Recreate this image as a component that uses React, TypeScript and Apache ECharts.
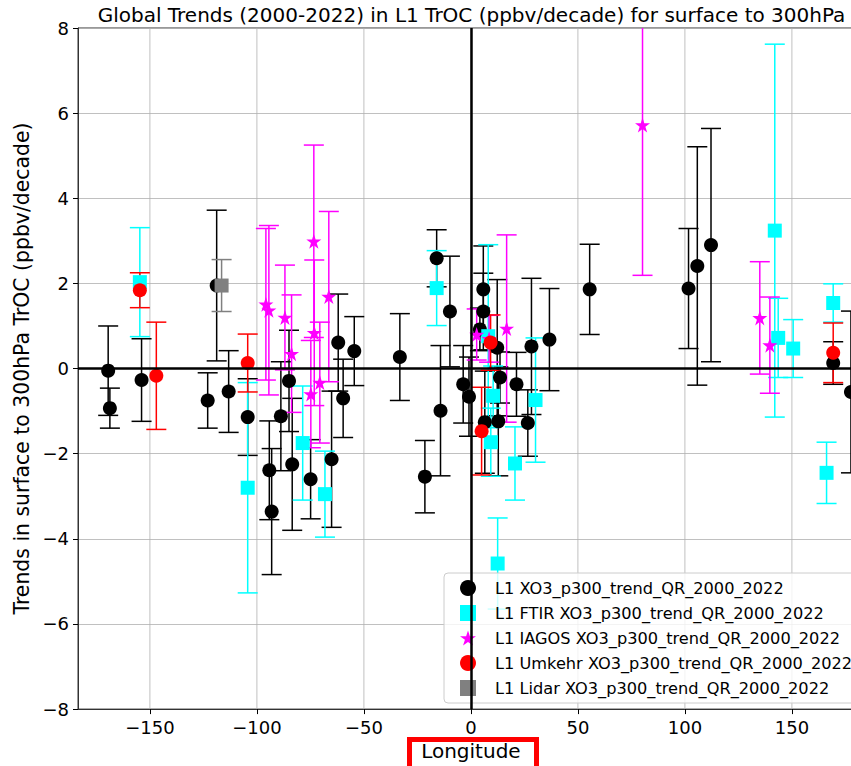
import React, { useEffect, useRef } from "react";
import * as echarts from "echarts";

// ---- data ----
const xo3Lon = [-169.5, -168.7, -153.9, -123.0, -118.8, -113.2, -104.3, -94.2, -93.1, -88.8, -85.0, -83.5, -74.9, -65.1, -62.0, -59.7, -54.5, -33.2, -21.5, -16.0, -14.2, -9.8, -3.6, -0.9, 4.2, 5.8, 5.8, 6.5, 12.3, 12.8, 13.6, 21.3, 26.6, 28.3, 36.7, 55.5, 101.7, 105.8, 112.2, 169.3, 177.6];
const xo3Trend = [-0.05, -0.93, -0.27, -0.75, 1.95, -0.54, -1.14, -2.39, -3.36, -1.12, -0.29, -2.25, -2.60, -2.13, 0.61, -0.70, 0.41, 0.27, -2.54, 2.59, -0.99, 1.34, -0.37, -0.66, 0.92, 1.34, 1.86, -1.26, 0.49, -1.24, -0.21, -0.37, -1.28, 0.52, 0.68, 1.86, 1.88, 2.41, 2.90, 0.13, -0.55];
const xo3Err = [1.05, 0.47, 0.97, 0.65, 1.77, 0.96, 0.90, 1.16, 1.48, 1.28, 1.19, 1.55, 0.93, 1.60, 1.14, 0.92, 0.81, 1.02, 0.85, 0.67, 1.53, 1.30, 0.91, 0.93, 0.50, 0.90, 1.02, 1.20, 1.60, 1.28, 0.60, 0.75, 0.78, 1.60, 1.20, 1.06, 1.41, 2.80, 2.74, 0.50, 1.90];

const ftirLon = [-154.7, -104.3, -78.6, -68.2, -16.0, 8.1, 9.3, 10.4, 12.5, 20.6, 30.2, 142.0, 143.6, 150.6, 166.2, 169.3];
const ftirTrend = [2.03, -2.80, -1.75, -2.95, 1.89, 0.76, -1.73, -0.64, -4.58, -2.23, -0.74, 3.24, 0.72, 0.47, -2.45, 1.54];
const ftirErr = [1.28, 2.47, 1.34, 1.01, 0.88, 2.15, 0.80, 0.70, 1.07, 0.86, 1.46, 4.38, 0.93, 0.68, 0.72, 0.45];

const iagosLon = [-95.8, -94.4, -86.9, -83.8, -74.8, -73.4, -73.2, -70.6, -66.4, 2.7, 8.5, 16.7, 80.2, 135.0, 139.7];
const iagosTrend = [1.51, 1.37, 1.20, 0.35, -0.60, 2.99, 0.84, -0.33, 1.69, 0.80, 0.70, 0.94, 5.72, 1.19, 0.55];
const iagosErr = [1.78, 1.99, 1.23, 1.38, 1.26, 2.26, 1.71, 1.42, 2.00, 0.60, 0.55, 2.20, 3.53, 1.32, 1.13];

const umkehrLon = [-154.7, -147.0, -104.3, 5.0, 9.2, 169.3];
const umkehrTrend = [1.84, -0.17, 0.13, -1.47, 0.61, 0.37];
const umkehrErr = [0.41, 1.26, 0.68, 1.03, 0.65, 0.70];

const lidarLon = [-116.5];
const lidarTrend = [1.95];
const lidarErr = [0.61];

const xTicks = [-150, -100, -50, 0, 50, 100, 150];
const yTicks = [-8, -6, -4, -2, 0, 2, 4, 6, 8];

const names = [
  "L1 XO3_p300_trend_QR_2000_2022",
  "L1 FTIR XO3_p300_trend_QR_2000_2022",
  "L1 IAGOS XO3_p300_trend_QR_2000_2022",
  "L1 Umkehr XO3_p300_trend_QR_2000_2022",
  "L1 Lidar XO3_p300_trend_QR_2000_2022",
];

const FONT = "DejaVu Sans";
const STAR =
  "path://M0,-10L2.245,-3.09L9.511,-3.09L3.633,1.18L5.878,8.09L0,3.82L-5.878,8.09L-3.633,1.18L-9.511,-3.09L-2.245,-3.09Z";

const fmt = (v: number) => String(v).replace("-", "\u2212");

function errSeries(name: string, lon: number[], val: number[], err: number[], color: string) {
  return {
    type: "custom",
    name: name + " err",
    clip: true,
    silent: true,
    z: 2,
    encode: { x: 0, y: 1 },
    data: lon.map((x, i) => [x, val[i], err[i]]),
    renderItem: (params: any, api: any) => {
      const x = api.value(0);
      const y = api.value(1);
      const e = api.value(2);
      const t = api.coord([x, y + e]);
      const b = api.coord([x, y - e]);
      const cw = 10;
      const st = { stroke: color, lineWidth: 1.5 };
      return {
        type: "group",
        children: [
          { type: "line", shape: { x1: t[0], y1: t[1], x2: b[0], y2: b[1] }, style: st },
          { type: "line", shape: { x1: t[0] - cw, y1: t[1], x2: t[0] + cw, y2: t[1] }, style: st },
          { type: "line", shape: { x1: b[0] - cw, y1: b[1], x2: b[0] + cw, y2: b[1] }, style: st },
        ],
      };
    },
  };
}

function ptSeries(name: string, lon: number[], val: number[], color: string, symbol: string, size: number) {
  return {
    type: "scatter",
    name,
    z: 2,
    symbol,
    symbolSize: size,
    itemStyle: { color, opacity: 1 },
    data: lon.map((x, i) => [x, val[i]]),
    silent: true,
  };
}

export default function App() {
  const ref = useRef<HTMLDivElement>(null);
  useEffect(() => {
    if (!ref.current) return;
    const chart = echarts.init(ref.current, undefined, { renderer: "svg" });
    const xGridSeries = {
      type: "custom",
      name: "xgrid",
      silent: true,
      z: 1,
      encode: { x: 0, y: 1 },
      data: xTicks.map((v) => [v, 0]),
      renderItem: (params: any, api: any) => {
        const v = api.value(0);
        const a = api.coord([v, 8]);
        const b = api.coord([v, -8]);
        return {
          type: "line",
          shape: { x1: a[0], y1: a[1], x2: b[0], y2: b[1] },
          style: { stroke: "#b0b0b0", lineWidth: 0.8 },
        };
      },
    };
    const lidarPts: any = ptSeries(names[4], lidarLon, lidarTrend, "#808080", "rect", 14);
    lidarPts.markLine = {
      silent: true,
      symbol: "none",
      z: 10,
      label: { show: false },
      lineStyle: { color: "#000", width: 2.5, type: "solid" },
      data: [{ xAxis: 0 }, { yAxis: 0 }],
    };
    chart.setOption({
      animation: false,
      grid: {
        left: 78,
        top: 28,
        width: 785.8,
        height: 686,
        show: true,
        borderColor: "#333",
        borderWidth: 1,
        backgroundColor: "transparent",
      },
      xAxis: {
        type: "value",
        min: -183.6,
        max: 183.6,
        axisLine: { show: true, onZero: false, lineStyle: { color: "#333", width: 1 } },
        axisTick: { show: true, inside: false, length: 5, customValues: xTicks, lineStyle: { color: "#000" } },
        axisLabel: { customValues: xTicks, formatter: fmt, fontSize: 18, color: "#000", margin: 9, fontFamily: FONT },
        splitLine: { show: false },
        name: "Longitude",
        nameLocation: "middle",
        nameGap: 26,
        nameTextStyle: { fontSize: 20, color: "#000", fontFamily: FONT },
      },
      yAxis: {
        type: "value",
        min: -8,
        max: 8,
        interval: 2,
        axisLine: { show: true, onZero: false, lineStyle: { color: "#333", width: 1 } },
        axisTick: { show: true, inside: false, length: 5, lineStyle: { color: "#000" } },
        axisLabel: { formatter: fmt, fontSize: 18, color: "#000", margin: 9, fontFamily: FONT },
        splitLine: { show: true, lineStyle: { color: "#b0b0b0", width: 0.8 } },
        name: "Trends in surface to 300hPa TrOC (ppbv/decade)",
        nameLocation: "middle",
        nameGap: 38,
        nameRotate: 90,
        nameTextStyle: { fontSize: 20.4, color: "#000", fontFamily: FONT },
      },
      legend: {
        orient: "vertical",
        left: 444,
        top: 573,
        data: [
          { name: names[0], icon: "circle" },
          { name: names[1], icon: "rect" },
          { name: names[2], icon: STAR },
          { name: names[3], icon: "circle" },
          { name: names[4], icon: "rect" },
        ],
        itemWidth: 16,
        itemHeight: 16,
        itemGap: 9,
        padding: [7, 12, 7, 16],
        backgroundColor: "rgba(255,255,255,0.8)",
        borderColor: "#cccccc",
        borderWidth: 1,
        borderRadius: 4,
        selectedMode: false,
        textStyle: { fontSize: 16.2, fontFamily: FONT, color: "#000", padding: [0, 0, 0, 14] },
      },
      graphic: [
        {
          type: "text",
          x: 471.5,
          y: 15,
          style: {
            text: "Global Trends (2000-2022) in L1 TrOC (ppbv/decade) for surface to 300hPa",
            fontSize: 20,
            fontFamily: FONT,
            fill: "#000",
            align: "center",
            verticalAlign: "middle",
          },
        },
        {
          type: "rect",
          shape: { x: 409.5, y: 739.5, width: 127, height: 40 },
          style: { fill: "none", stroke: "#ff0000", lineWidth: 5 },
          z: 100,
        },
      ],
      series: [
        xGridSeries,
        errSeries(names[0], xo3Lon, xo3Trend, xo3Err, "#000000"),
        ptSeries(names[0], xo3Lon, xo3Trend, "#000000", "circle", 14),
        errSeries(names[1], ftirLon, ftirTrend, ftirErr, "#00ffff"),
        ptSeries(names[1], ftirLon, ftirTrend, "#00ffff", "rect", 14),
        errSeries(names[2], iagosLon, iagosTrend, iagosErr, "#ff00ff"),
        ptSeries(names[2], iagosLon, iagosTrend, "#ff00ff", STAR, 15),
        errSeries(names[3], umkehrLon, umkehrTrend, umkehrErr, "#ff0000"),
        ptSeries(names[3], umkehrLon, umkehrTrend, "#ff0000", "circle", 14),
        errSeries(names[4], lidarLon, lidarTrend, lidarErr, "#808080"),
        lidarPts,
      ],
    });
    return () => chart.dispose();
  }, []);
  return (
    <div style={{ position: "fixed", left: 0, top: 0, width: 851, height: 766, overflow: "hidden", background: "#fff" }}>
      <div ref={ref} style={{ width: 870, height: 766 }} />
    </div>
  );
}
